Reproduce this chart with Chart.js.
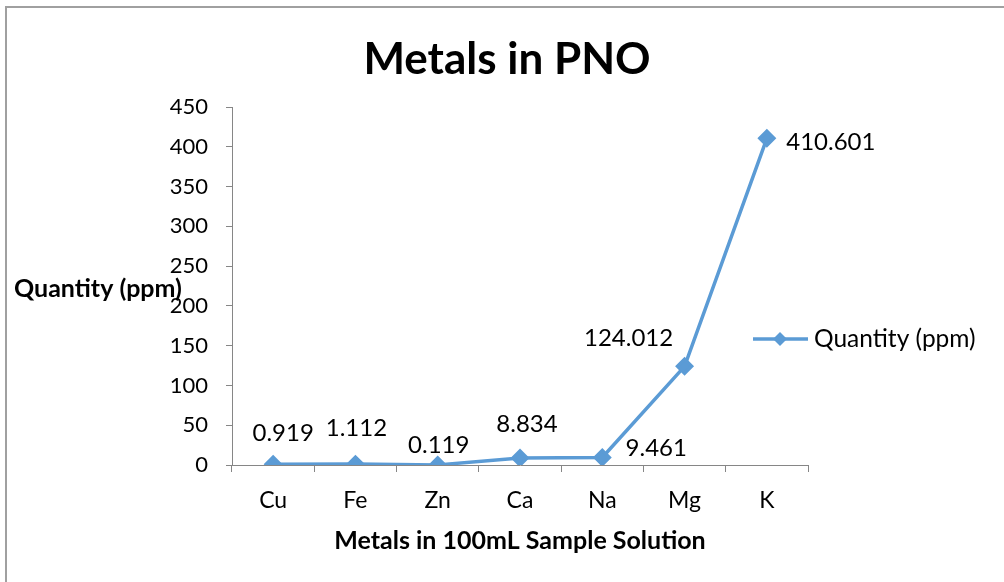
<!DOCTYPE html>
<html>
<head>
<meta charset="utf-8">
<title>Metals in PNO</title>
<script src="https://cdn.jsdelivr.net/npm/chart.js@4/dist/chart.umd.min.js"></script>
<style>
  html, body { margin: 0; padding: 0; background: #fff; }
  #wrap { width: 1004px; height: 582px; position: relative; }
</style>
</head>
<body>
<div id="wrap"><canvas id="chart"></canvas></div>
<script>
// chart data
const metals = ['Cu', 'Fe', 'Zn', 'Ca', 'Na', 'Mg', 'K'];
const quantity = [0.919, 1.112, 0.119, 8.834, 9.461, 124.012, 410.601];
const quantityLabels = ['0.919', '1.112', '0.119', '8.834', '9.461', '124.012', '410.601'];
const yTicks = [0, 50, 100, 150, 200, 250, 300, 350, 400, 450];

const FONT = 'Lato, "Open Sans", sans-serif';
const BLUE = '#5b9bd5';

// label placement relative to each point (like excel's manual positions)
const labelShift = [[10, -31], [1, -36], [1, -20], [7, -34], [54, -9], [-56, -28], [64, 4]];

const extras = {
    id: 'extras',
    afterDraw(chart) {
        const ctx = chart.ctx;
        ctx.save();

        // frame (only top and left edges are visible in the crop)
        ctx.strokeStyle = '#a0a0a0';
        ctx.lineWidth = 2;
        ctx.beginPath();
        ctx.moveTo(6, 582);
        ctx.lineTo(6, 7);
        ctx.lineTo(1004, 7);
        ctx.stroke();

        // value labels
        const meta = chart.getDatasetMeta(0);
        ctx.fillStyle = '#000';
        ctx.font = '24px ' + FONT;
        ctx.textAlign = 'center';
        ctx.textBaseline = 'middle';
        meta.data.forEach((pt, i) => {
            ctx.fillText(quantityLabels[i], pt.x + labelShift[i][0], pt.y + labelShift[i][1]);
        });

        // y axis title, horizontal, as in the original
        ctx.font = 'bold 25px ' + FONT;
        ctx.textAlign = 'left';
        ctx.fillText('Quantity (ppm)', 14, 289);

        // legend
        const lx = 753, ly = 339;
        ctx.strokeStyle = BLUE;
        ctx.lineWidth = 3.5;
        ctx.beginPath();
        ctx.moveTo(lx, ly);
        ctx.lineTo(lx + 55, ly);
        ctx.stroke();
        ctx.fillStyle = BLUE;
        ctx.beginPath();
        ctx.moveTo(lx + 27, ly - 7);
        ctx.lineTo(lx + 34, ly);
        ctx.lineTo(lx + 27, ly + 7);
        ctx.lineTo(lx + 20, ly);
        ctx.closePath();
        ctx.fill();
        ctx.fillStyle = '#000';
        ctx.font = '24.5px ' + FONT;
        ctx.fillText('Quantity (ppm)', 814, ly);

        ctx.restore();
    }
};

new Chart(document.getElementById('chart'), {
    type: 'line',
    data: {
        labels: metals,
        datasets: [{
            label: 'Quantity (ppm)',
            data: quantity,
            borderColor: BLUE,
            backgroundColor: BLUE,
            borderWidth: 3.5,
            tension: 0,
            pointStyle: 'rectRot',
            pointRadius: 7,
            pointHoverRadius: 7,
        }],
    },
    options: {
        responsive: true,
        maintainAspectRatio: false,
        animation: false,
        layout: { padding: { top: 107, right: 196, left: 0, bottom: 0 } },
        plugins: {
            legend: { display: false },
            tooltip: { enabled: false },
            title: { display: false },
        },
        scales: {
            x: {
                offset: true,
                grid: {
                    offset: true,
                    drawOnChartArea: false,
                    drawTicks: true,
                    tickLength: 7,
                    color: '#868686',
                },
                border: { color: '#868686', width: 1 },
                ticks: { color: '#000', font: { family: FONT, size: 23 }, padding: 15 },
                title: {
                    display: true,
                    text: 'Metals in 100mL Sample Solution',
                    color: '#000',
                    font: { family: FONT, size: 25, weight: 'bold' },
                    padding: { top: 0, bottom: 26 },
                },
                afterFit(scale) { scale.height = 117; },
            },
            y: {
                min: 0,
                max: 450,
                afterBuildTicks(scale) { scale.ticks = yTicks.map(v => ({ value: v })); },
                grid: {
                    drawOnChartArea: false,
                    drawTicks: true,
                    tickLength: 6,
                    color: '#868686',
                },
                border: { color: '#868686', width: 1 },
                ticks: { color: '#000', font: { family: FONT, size: 22 }, padding: 18 },
                afterFit(scale) { scale.width = 232; },
            },
        },
    },
    plugins: [extras, {
        id: 'mainTitle',
        afterDraw(chart) {
            const ctx = chart.ctx;
            ctx.save();
            ctx.fillStyle = '#000';
            ctx.font = 'bold 44px ' + FONT;
            ctx.textAlign = 'center';
            ctx.textBaseline = 'middle';
            ctx.fillText('Metals in PNO', 507, 60);
            ctx.restore();
        }
    }],
});
</script>
</body>
</html>
